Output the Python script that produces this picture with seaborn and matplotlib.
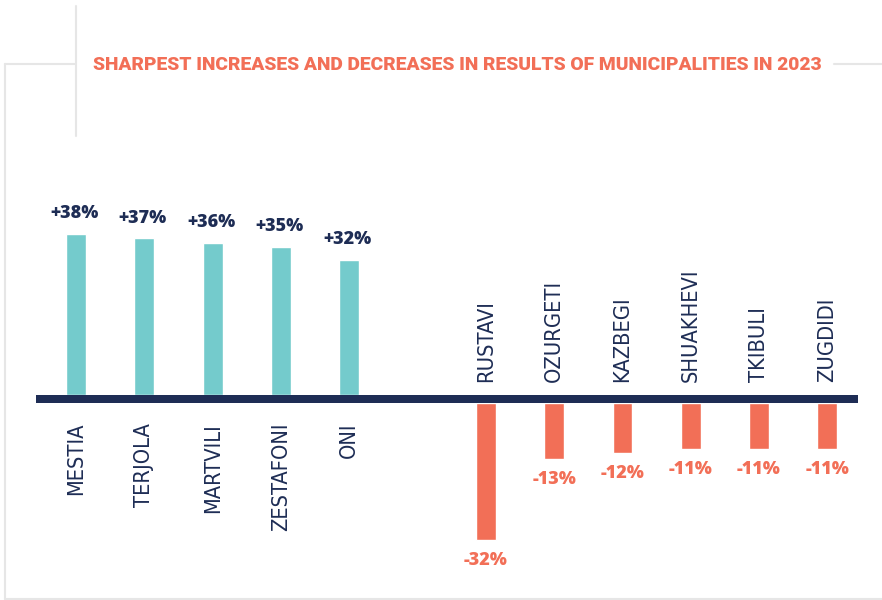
import matplotlib
matplotlib.use('Agg')
import matplotlib.pyplot as plt
import matplotlib.transforms as mtransforms
from matplotlib import font_manager
from matplotlib.lines import Line2D
import pandas as pd
import seaborn as sns

# ======== Dados ========
increases = ['MESTIA', 'TERJOLA', 'MARTVILI', 'ZESTAFONI', 'ONI']
increase_values = [38, 37, 36, 35, 32]
decreases = ['RUSTAVI', 'OZURGETI', 'KAZBEGI', 'SHUAKHEVI', 'TKIBULI', 'ZUGDIDI']
decrease_values = [-32.5, -13.2, -11.8, -10.9, -10.9, -10.9]
decrease_labels = ['-32%', '-13%', '-12%', '-11%', '-11%', '-11%']
increase_labels = ['+38%', '+37%', '+36%', '+35%', '+32%']
title = 'SHARPEST INCREASES AND DECREASES IN RESULTS OF MUNICIPALITIES IN 2023'

TEAL = '#74cbcc'
CORAL = '#f26f57'
NAVY = '#1e2d55'
FRAME = '#e6e6e6'

# procura uma fonte condensada instalada
condensed = [f for f in font_manager.fontManager.ttflist
             if ('ondensed' in str(f.stretch) or 'Condensed' in f.name or 'Narrow' in f.name)
             and f.style == 'normal']
if condensed:
    cf = condensed[0]
    label_props = dict(family=cf.name, stretch=cf.stretch, fontsize=15.7)
else:
    label_props = dict(family='Roboto', fontsize=14.4)
value_props = dict(family='Open Sans', fontweight=800, fontsize=13)
title_props = dict(family='Roboto', fontweight='black', fontsize=13.85)

df = pd.DataFrame({
    'name': increases + decreases,
    'value': increase_values + decrease_values,
    'label': increase_labels + decrease_labels,
    'kind': ['up'] * len(increases) + ['down'] * len(decreases),
})
order = increases + [' '] + decreases

sns.set_style('white')
fig = plt.figure(figsize=(8.82, 6), dpi=100)
ax = fig.add_axes([0, 0, 1, 1])

sns.barplot(data=df, x='name', y='value', hue='kind', order=order,
            palette={'up': TEAL, 'down': CORAL}, width=0.29, dodge=False,
            legend=False, saturation=1, ax=ax)

ax.set_xlim(-1.113, 11.80)
ax.set_ylim(-48.5, 93.4)
ax.axis('off')

# barras negativas começam abaixo da linha base (8 px)
down_trans = mtransforms.offset_copy(ax.transData, fig=fig, y=-8, units='dots')
for p in ax.patches:
    if p.get_height() < 0:
        p.set_transform(down_trans)

# linha base
trans = mtransforms.offset_copy(ax.get_yaxis_transform(), fig=fig, y=-4, units='dots')
ax.plot([36 / 882, 858 / 882], [0, 0], color=NAVY, lw=5.76,
        solid_capstyle='butt', transform=trans, zorder=3)

# rótulos
for name, val, txt in zip(df['name'], df['value'], df['label']):
    i = order.index(name)
    if val > 0:
        ax.annotate(txt, (i, val), xytext=(-1, 8.6), textcoords='offset points',
                    ha='center', va='bottom', color=NAVY, **value_props)
        ax.annotate(name, (i, 0), xytext=(0, -20.2), textcoords='offset points',
                    ha='center', va='top', rotation=90, color=NAVY, **label_props)
    else:
        ax.annotate(txt, (i, val), xytext=(0, -14.4), textcoords='offset points',
                    ha='center', va='top', color=CORAL, **value_props)
        ax.annotate(name, (i, 0), xytext=(0, 9.4), textcoords='offset points',
                    ha='center', va='bottom', rotation=90, color=NAVY, **label_props)

# moldura
W, H = 882, 600
def frame_line(x0, y0, x1, y1):
    fig.add_artist(Line2D([x0 / W, x1 / W], [1 - y0 / H, 1 - y1 / H],
                          color=FRAME, lw=1.5))

frame_line(5, 64, 75, 64)
frame_line(76, 6, 76, 136)
frame_line(5, 64, 5, 599)
frame_line(5, 599, 882, 599)
frame_line(834, 64, 882, 64)

fig.text(457.5 / W, 1 - 65 / H, title, ha='center', va='center',
         color=CORAL, **title_props)

fig.savefig('out.png', dpi=100)
